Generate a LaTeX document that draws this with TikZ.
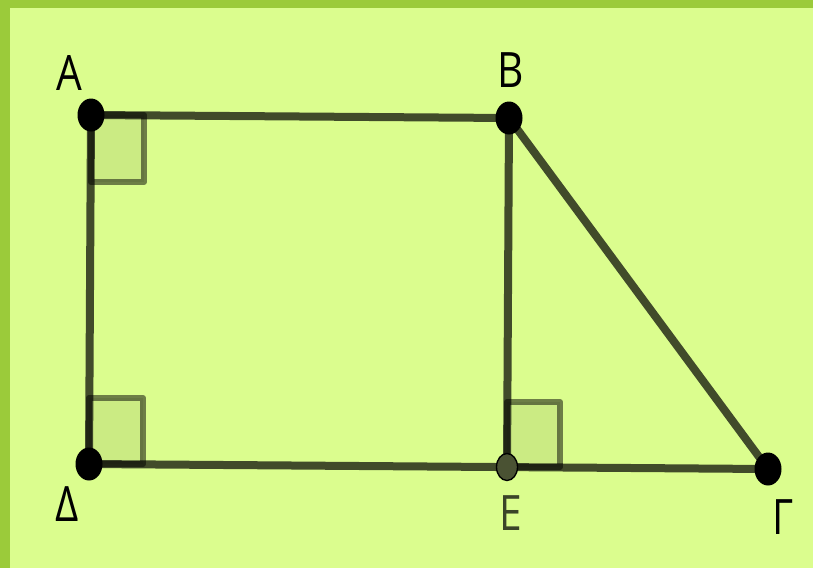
\documentclass[tikz,border=0pt]{standalone}
\usepackage{fontspec}
\usepackage{tikz}
\usetikzlibrary{shapes.geometric}
\newfontfamily\lblfont{Open Sans}
\definecolor{frame}{HTML}{9BCB3A}
\definecolor{paper}{HTML}{DBFD8E}
\definecolor{olive}{HTML}{4A5233}
\definecolor{darkolive}{HTML}{3A4428}

\begin{document}
\begin{tikzpicture}[x=0.75pt,y=-0.75pt,
  side/.style={black,opacity=0.7,line width=6pt,line cap=round},
  rangle/.style={black,draw opacity=0.5,fill opacity=0.07,fill=black,line width=4.5pt,line join=round},
  vtx/.style={ellipse,fill=black,inner sep=0pt,minimum width=20.25pt,minimum height=24.75pt},
  lbl/.style={font=\lblfont\fontsize{30.5}{32}\selectfont,yscale=1.2,inner sep=0pt}]
  \fill[frame] (0,0) rectangle (813,568);
  \fill[paper] (10,8) rectangle (813,568);
  % right angles
  \filldraw[rangle] (91,115) rectangle (144,182);
  \filldraw[rangle] (89,398) rectangle (143,464);
  \filldraw[rangle] (507,402) rectangle (560,467);
  % vertices
  \coordinate (A) at (91,115);
  \coordinate (B) at (509,118);
  \coordinate (D) at (89,464);
  \coordinate (E) at (507,467);
  \coordinate (G) at (768,469);
  \draw[side] (A) -- (B);
  \draw[side] (A) -- (D);
  \draw[side] (D) -- (G);
  \draw[side] (B) -- (G);
  \draw[side] (B) -- (E);
  \foreach \p in {A,B,D,G}{
    \node[vtx] (dot\p) at (\p) {};
  }
  \node[vtx,fill=olive,draw=black,line width=1pt,minimum width=15.75pt,minimum height=20.25pt] (dotE) at (E) {};
  % labels
  \node[lbl] (lblA) at (69,73) {A};
  \node[lbl] (lblB) at (511,70) {B};
  \node[lbl] (lblD) at (67,504) {Δ};
  \node[lbl,text=darkolive] (lblE) at (511,513) {E};
  \node[lbl] (lblG) at (783,517) {Γ};
\end{tikzpicture}
\end{document}
